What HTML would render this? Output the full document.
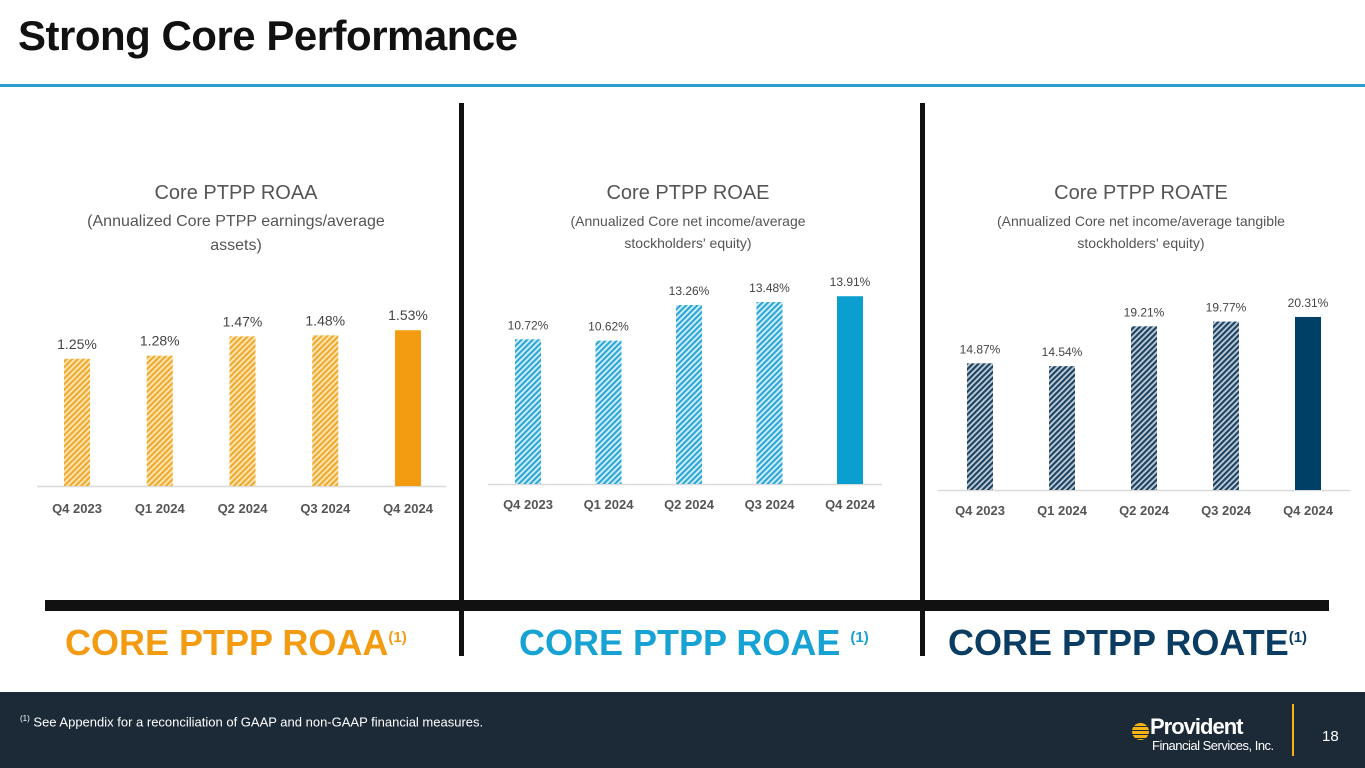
<!DOCTYPE html>
<html><head><meta charset="utf-8">
<style>
body{margin:0;width:1365px;height:768px;overflow:hidden;background:#fff;font-family:"Liberation Sans",sans-serif;position:relative}
.abs{position:absolute}
</style></head>
<body>
<div class="abs" style="left:18px;top:12px;font-size:42px;font-weight:bold;color:#111;letter-spacing:-0.5px">Strong Core Performance</div>
<div class="abs" style="left:0;top:84px;width:1365px;height:3px;background:#2a9fd0"></div>
<svg class="abs" style="left:0;top:0" width="1365" height="768" id="chart">
<defs>
<pattern id="pO" patternUnits="userSpaceOnUse" width="4" height="4" patternTransform="rotate(45)"><rect width="4" height="4" fill="#fbe3b2"/><rect width="2" height="4" fill="#f0a92a"/></pattern>
<pattern id="pC" patternUnits="userSpaceOnUse" width="4" height="4" patternTransform="rotate(45)"><rect width="4" height="4" fill="#cdebf6"/><rect width="2" height="4" fill="#2aa6d6"/></pattern>
<pattern id="pN" patternUnits="userSpaceOnUse" width="4" height="4" patternTransform="rotate(45)"><rect width="4" height="4" fill="#c4d0da"/><rect width="2.2" height="4" fill="#1e4463"/></pattern>
</defs>
<rect x="459" y="103" width="5" height="553" fill="#111"/>
<rect x="920" y="103" width="5" height="553" fill="#111"/>
<rect x="45" y="600" width="1284" height="11" fill="#111"/>
</svg>
<div class="abs" style="left:590px;top:0"></div>
<div class="abs" style="left:65px;top:622px;font-size:36px;font-weight:bold;color:#f39c12">CORE PTPP ROAA<sup style="font-size:15px">(1)</sup></div>
<div class="abs" style="left:519px;top:622px;font-size:36px;font-weight:bold;color:#16a3d4">CORE PTPP ROAE <sup style="font-size:15px">(1)</sup></div>
<div class="abs" style="left:948px;top:622px;font-size:36px;font-weight:bold;color:#0b3d63">CORE PTPP ROATE<sup style="font-size:15px">(1)</sup></div>
<div class="abs" style="left:0;top:692px;width:1365px;height:76px;background:#1c2a38">
  <div class="abs" style="left:20px;top:22px;font-size:13px;color:#fff"><sup style="font-size:8px">(1)</sup> See Appendix for a reconciliation of GAAP and non-GAAP financial measures.</div>
  <div class="abs" style="left:1132px;top:31px;width:17px;height:17px;border-radius:50%;background:repeating-linear-gradient(#f5b315 0 3px,#1c2a38 3px 4px)"></div>
  <div class="abs" style="left:1150px;top:22px;font-size:22px;font-weight:bold;color:#fff;letter-spacing:-1px">Provident</div>
  <div class="abs" style="left:1152px;top:46px;font-size:13px;color:#fff;letter-spacing:-0.5px">Financial Services, Inc.</div>
  <div class="abs" style="left:1292px;top:12px;width:2px;height:52px;background:#f5b315"></div>
  <div class="abs" style="left:1322px;top:36px;font-size:15px;color:#fff">18</div>
</div>
<script>
const categories=["Q4 2023","Q1 2024","Q2 2024","Q3 2024","Q4 2024"];
const roaaValues=[1.25,1.28,1.47,1.48,1.53];
const roaeValues=[10.72,10.62,13.26,13.48,13.91];
const roateValues=[14.87,14.54,19.21,19.77,20.31];
const roaaLabels=["1.25%","1.28%","1.47%","1.48%","1.53%"];
const roaeLabels=["10.72%","10.62%","13.26%","13.48%","13.91%"];
const roateLabels=["14.87%","14.54%","19.21%","19.77%","20.31%"];
const svg=document.getElementById('chart');
const NS='http://www.w3.org/2000/svg';
function mk(tag,attrs,txt){const e=document.createElementNS(NS,tag);for(const k in attrs)e.setAttribute(k,attrs[k]);if(txt!==undefined)e.textContent=txt;svg.appendChild(e);return e;}
const charts=[
 {key:'roaa',vals:roaaValues,labs:roaaLabels,x0:77,step:82.75,base:486,scale:101.8,ax0:37,ax1:446,pat:'url(#pO)',solid:'#f39c12',lblSize:14,title:'Core PTPP ROAA',sub:['(Annualized Core PTPP earnings/average','assets)'],tx:236,ty:199,subSize:16,tickY:513},
 {key:'roae',vals:roaeValues,labs:roaeLabels,x0:528,step:80.5,base:484,scale:13.5,ax0:488,ax1:882,pat:'url(#pC)',solid:'#0b9fcf',lblSize:12,title:'Core PTPP ROAE',sub:['(Annualized Core net income/average',"stockholders' equity)"],tx:688,ty:199,subSize:14,tickY:509},
 {key:'roate',vals:roateValues,labs:roateLabels,x0:980,step:82,base:490,scale:8.52,ax0:938,ax1:1350,pat:'url(#pN)',solid:'#003f66',lblSize:12,title:'Core PTPP ROATE',sub:['(Annualized Core net income/average tangible',"stockholders' equity)"],tx:1141,ty:199,subSize:14,tickY:515}
];
charts.forEach(c=>{
 const xf=i=>c.x0+i*c.step;
 const yf=v=>c.base-v*c.scale;
 let t=mk('text',{x:c.tx,y:c.ty,'text-anchor':'middle','font-size':20,fill:'#555'},c.title);
 
 
 c.sub.forEach((s,j)=>{
  const st=mk('text',{x:c.tx,y:c.ty+27+j*(c.subSize+8),'text-anchor':'middle','font-size':c.subSize,fill:'#555'},s);
  
  
 });
 const ax=mk('line',{x1:c.ax0,x2:c.ax1,y1:c.base+0.5,y2:c.base+0.5,stroke:'#d9d9d9','stroke-width':1.5});
 
 
 c.vals.forEach((v,i)=>{
  const w=26;
  const r=mk('rect',{x:xf(i)-w/2,y:yf(v),width:w,height:c.base-yf(v),fill:i===c.vals.length-1?c.solid:c.pat});
  
  
  const l=mk('text',{x:xf(i),y:yf(v)-10,'text-anchor':'middle','font-size':c.lblSize,fill:'#444'},c.labs[i]);
  
  
  const tk=mk('text',{x:xf(i),y:c.tickY,'text-anchor':'middle','font-size':13,'font-weight':'bold',fill:'#555'},categories[i]);
  
  
 });
});
</script>
</body></html>
